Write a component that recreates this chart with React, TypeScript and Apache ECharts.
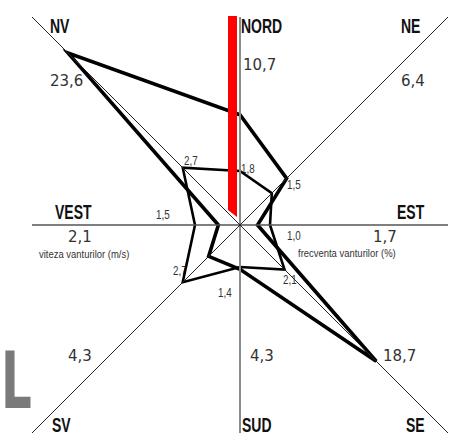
import React, { useEffect, useRef } from "react";
import * as echarts from "echarts";

// ---------- data ----------
const directions = ["NORD", "NE", "EST", "SE", "SUD", "SV", "VEST", "NV"];
const directionAngles = [0, 45, 90, 135, 180, 225, 270, 315];
const windFrequency = [10.7, 6.4, 1.7, 18.7, 4.3, 4.3, 2.1, 23.6]; // %
const windSpeed = [1.8, 1.5, 1.0, 2.1, 1.4, 2.7, 1.5, 2.7]; // m/s
const frequencyTitle = "frecventa vanturilor (%)";
const speedTitle = "viteza vanturilor (m/s)";
const cornerLetter = "L";

// ---------- layout / style ----------
const EXTENT = 208;
const FREQ_SCALE = 10.3;
const SPEED_SCALE = 30;
const NORTH_BAR = [
  [-12, 209],
  [-3, 209],
  [-3, 8],
  [-12, 15],
];
const dirLabelPos = [
  [241, 26], [401, 26], [397, 212], [406, 425],
  [242, 425], [52, 425], [55, 212], [50, 26],
];
const freqLabelPos = [
  [243, 65], [401, 81], [373, 237], [383, 356],
  [250, 356], [68, 356], [68, 237], [50, 81],
];
const speedLabelPos = [
  [241, 169], [287, 185], [287, 236], [283, 280],
  [218, 293], [173, 271], [156, 215], [184, 161],
];

const fmt = (v: number) => v.toFixed(1).replace(".", ",");

function toXY(r: number, deg: number): [number, number] {
  const a = (deg * Math.PI) / 180;
  return [r * Math.sin(a), r * Math.cos(a)];
}
function spokeEnd(deg: number): [number, number] {
  const a = (deg * Math.PI) / 180;
  const s = Math.sin(a);
  const c = Math.cos(a);
  const k = EXTENT / Math.max(Math.abs(s), Math.abs(c));
  return [k * s, k * c];
}

const spokeStyles = [
  { dirs: [0, 180], color: "#8c8c8c", width: 2 },
  { dirs: [90, 270], color: "#555", width: 1.3 },
  { dirs: [45, 225], color: "#222", width: 1 },
  { dirs: [135, 315], color: "#222", width: 1 },
];

function polygonSeries(values: number[], scale: number, width: number) {
  const pts = values.map((v, i) => toXY(v * scale, directionAngles[i]));
  return {
    type: "custom",
    coordinateSystem: "cartesian2d",
    silent: true,
    data: [[0, 0]],
    renderItem: (_p: any, api: any) => ({
      type: "polygon",
      shape: { points: pts.map((p) => api.coord(p)) },
      style: { fill: "none", stroke: "#000", lineWidth: width, lineJoin: "miter" },
    }),
  };
}

function textEl(text: string, x: number, y: number, font: string, fill: string, scaleX = 1) {
  return {
    type: "text",
    x,
    y,
    scaleX,
    silent: true,
    style: {
      text,
      font,
      fill,
      align: "left",
      verticalAlign: "middle",
      textAlign: "left",
      textVerticalAlign: "middle",
    },
  };
}

export default function App() {
  const ref = useRef<HTMLDivElement>(null);
  useEffect(() => {
    if (!ref.current) return;
    const chart = echarts.init(ref.current, null, { renderer: "svg" });

    const spokeSeries = spokeStyles.map((s) => ({
      type: "line",
      silent: true,
      symbol: "none",
      data: [spokeEnd(s.dirs[0]), spokeEnd(s.dirs[1])],
      lineStyle: { color: s.color, width: s.width },
    }));

    const northBar = {
      type: "custom",
      coordinateSystem: "cartesian2d",
      silent: true,
      data: [[0, 0]],
      renderItem: (_p: any, api: any) => ({
        type: "polygon",
        shape: { points: NORTH_BAR.map((p) => api.coord(p)) },
        style: { fill: "#ff0000", stroke: "none" },
      }),
    };

    const graphics: any[] = [];
    directions.forEach((d, i) => {
      graphics.push(textEl(d, dirLabelPos[i][0], dirLabelPos[i][1], "bold 20px 'Liberation Sans'", "#111", 0.7));
      graphics.push(textEl(fmt(windFrequency[i]), freqLabelPos[i][0], freqLabelPos[i][1], "15px 'DejaVu Sans'", "#333"));
      graphics.push(textEl(fmt(windSpeed[i]), speedLabelPos[i][0], speedLabelPos[i][1], "12px 'Liberation Sans'", "#333", 0.82));
    });
    graphics.push(textEl(speedTitle, 39, 254, "11px 'Liberation Sans'", "#333", 0.86));
    graphics.push(textEl(frequencyTitle, 298, 253, "11px 'Liberation Sans'", "#333", 0.86));
    graphics.push(textEl(cornerLetter, 1, 381, "bold 78px 'DejaVu Sans'", "#7a7a7a", 0.62));

    chart.setOption({
      animation: false,
      backgroundColor: "#fff",
      grid: { left: 32, top: 17, width: 2 * EXTENT, height: 2 * EXTENT, containLabel: false },
      xAxis: { type: "value", min: -EXTENT, max: EXTENT, show: false },
      yAxis: { type: "value", min: -EXTENT, max: EXTENT, show: false },
      series: [
        ...spokeSeries,
        polygonSeries(windSpeed, SPEED_SCALE, 2.6),
        polygonSeries(windFrequency, FREQ_SCALE, 3.6),
        northBar,
      ],
      graphic: graphics,
    });
    return () => chart.dispose();
  }, []);
  return (
    <div
      ref={ref}
      style={{ position: "absolute", left: 0, top: 0, width: 451, height: 440 }}
    />
  );
}
